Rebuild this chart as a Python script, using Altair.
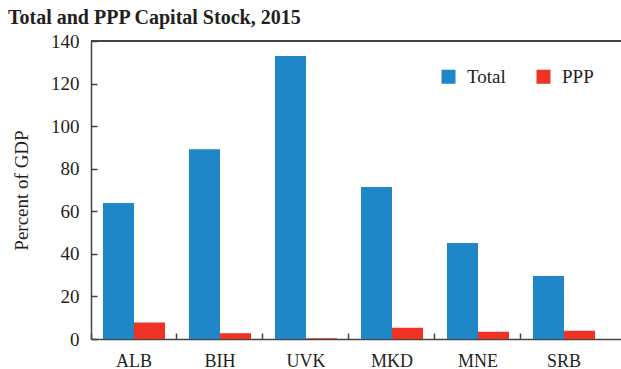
import altair as alt
import pandas as pd

# Capital stock by country, percent of GDP
countries = ["ALB", "BIH", "UVK", "MKD", "MNE", "SRB"]
total = [63.9, 89.2, 132.9, 71.4, 45.1, 29.6]
ppp = [7.8, 2.7, 0.3, 5.3, 3.4, 3.9]
series = ["Total", "PPP"]
series_colors = ["#1F86C8", "#EE3224"]
y_ticks = [0, 20, 40, 60, 80, 100, 120, 140]

rows = []
for c, t, p in zip(countries, total, ppp):
    rows.append({"country": c, "series": "Total", "value": t})
    rows.append({"country": c, "series": "PPP", "value": p})
df = pd.DataFrame(rows)

FONT = "Liberation Serif"
INK = "#231F20"
AXIS = "#444444"

bars = alt.Chart(df).mark_bar().encode(
    x=alt.X(
        "country:N",
        sort=countries,
        title=None,
        scale=alt.Scale(paddingInner=0, paddingOuter=0.0814, align=0),
        axis=alt.Axis(
            labelAngle=0,
            bandPosition=0,
            tickSize=alt.ExprRef("-6"),
            labelPadding=19,
            labelFontSize=18,
        ),
    ),
    xOffset=alt.XOffset(
        "series:N",
        sort=series,
        scale=alt.Scale(paddingInner=0, paddingOuter=0.387),
    ),
    y=alt.Y(
        "value:Q",
        title="Percent of GDP",
        scale=alt.Scale(domain=[0, 140], nice=False),
        axis=alt.Axis(
            values=y_ticks,
            tickSize=alt.ExprRef("-6"),
            labelPadding=18,
            labelFontSize=19,
            titleFontSize=19,
            titleFontWeight="normal",
            titlePadding=19,
        ),
    ),
    color=alt.Color(
        "series:N",
        sort=series,
        scale=alt.Scale(domain=series, range=series_colors),
        legend=alt.Legend(
            title=None,
            orient="none",
            legendX=348,
            legendY=26,
            direction="horizontal",
            symbolType="square",
            symbolSize=196,
            symbolStrokeWidth=0,
            labelFontSize=19,
            labelOffset=9,
            columnPadding=28,
        ),
    ),
)

# top edge of the plot frame
frame_top = alt.Chart(df).mark_rule(color=AXIS, strokeWidth=1.5).encode(
    y=alt.datum(140)
)

chart = (
    alt.layer(bars, frame_top)
    .properties(
        width=530,
        height=298,
        autosize=alt.AutoSizeParams(type="none"),
        padding={"left": 91, "top": 41, "right": 0, "bottom": 30},
        title=alt.TitleParams(
            "Total and PPP Capital Stock, 2015",
            anchor="start",
            frame="group",
            dx=-83,
            dy=27,
            offset=15,
            baseline="alphabetic",
            fontSize=20,
            font=FONT,
            fontWeight="bold",
            color=INK,
        ),
    )
    .configure_view(stroke=None)
    .configure_axis(
        labelFont=FONT,
        titleFont=FONT,
        labelColor=INK,
        titleColor=INK,
        domainColor=AXIS,
        domainWidth=1.5,
        tickColor=AXIS,
        tickWidth=1.5,
        grid=False,
    )
    .configure_legend(labelFont=FONT, labelColor=INK)
)

chart.save("out.html", embed_options={"renderer": "svg", "actions": False})
